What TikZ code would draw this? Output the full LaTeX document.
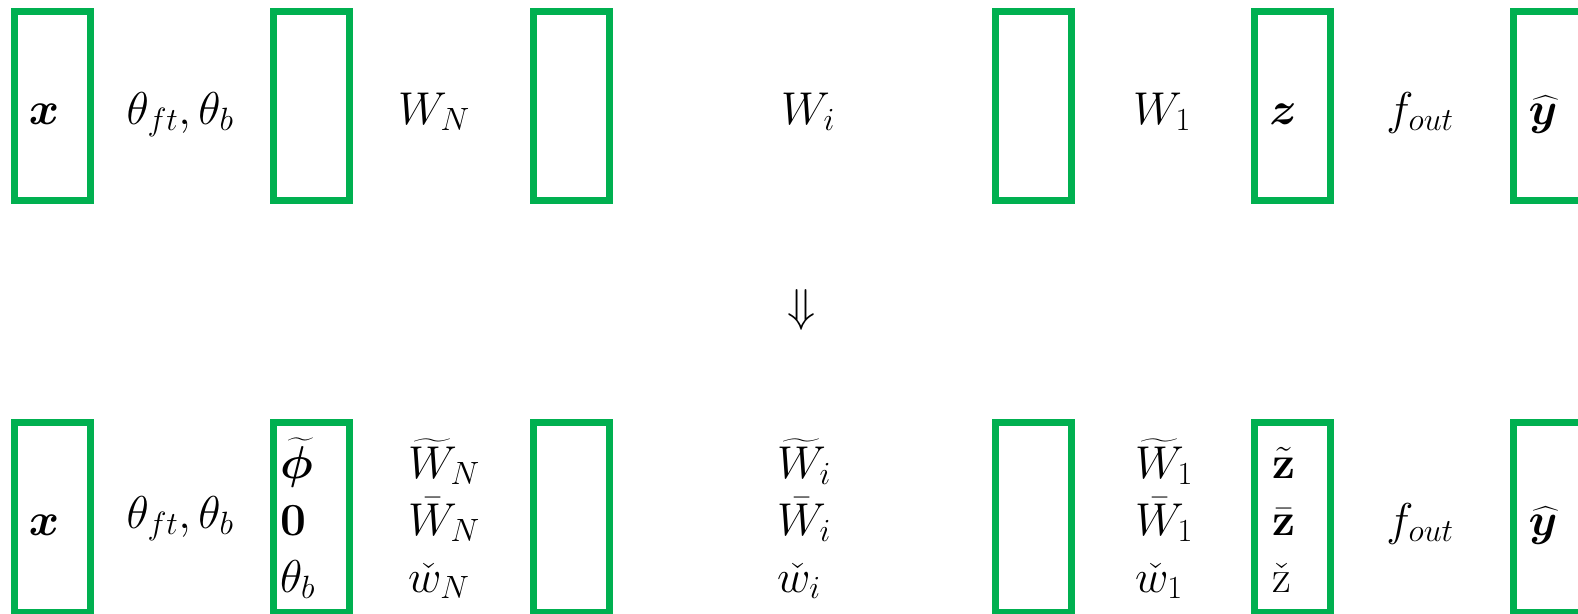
\RequirePackage{fix-cm}
\documentclass[tikz,border=0pt]{standalone}
\usepackage{amsmath,bm}
\definecolor{boxgreen}{HTML}{00B050}
\tikzset{
  lay/.style={draw=boxgreen, line width=7pt, minimum width=76pt, minimum height=189.5pt, inner sep=0pt, outer sep=0pt},
  lbl/.style={inner sep=0pt, font=\fontsize{46}{54}\selectfont, anchor=base},
  col/.style={lbl, anchor=base west},
}
\begin{document}
\begin{tikzpicture}[x=1pt,y=-1pt]
\useasboundingbox (0,0) rectangle (1578,613);
\clip (0,0) rectangle (1578,613);
% top boxes
\node[lay] (t1) at (52.5,105.75) {};
\node[lay] (t2) at (311.5,105.75) {};
\node[lay] (t3) at (571.5,105.75) {};
\node[lay] (t4) at (1033.5,105.75) {};
\node[lay] (t5) at (1292.5,105.75) {};
\node[lay] (t6) at (1551.5,105.75) {};
% bottom boxes
\node[lay] (b1) at (52.5,517.25) {};
\node[lay] (b2) at (311.5,517.25) {};
\node[lay] (b3) at (571.5,517.25) {};
\node[lay] (b4) at (1033.5,517.25) {};
\node[lay] (b5) at (1292.5,517.25) {};
\node[lay] (b6) at (1551.5,517.25) {};
% top labels
\node[lbl] (tx) at (44,124) {$\bm{x}$};
\node[lbl] (tth) at (180,124) {$\theta_{ft},\theta_b$};
\node[lbl] (twn) at (434,124) {$W_N$};
\node[lbl] (twi) at (808,124) {$W_i$};
\node[lbl] (tw1) at (1162,124) {$W_1$};
\node[lbl] (tz) at (1283,124) {$\bm{z}$};
\node[lbl] (tf) at (1420,124) {$f_{out}$};
\node[lbl] (ty) at (1543,124) {$\widehat{\bm{y}}$};
% arrow
\node[lbl, anchor=center] (arr) at (802,310) {$\Downarrow$};
% bottom labels
\node[lbl] (bx) at (44,535) {$\bm{x}$};
\node[lbl] (bth) at (180,528) {$\theta_{ft},\theta_b$};
\node[col] (p1) at (280,478) {$\widetilde{\bm{\phi}}$};
\node[col] (p2) at (280,535) {$\mathbf{0}$};
\node[col] (p3) at (280,592) {$\theta_b$};
\node[col] (n1) at (408,478) {$\widetilde{W}_N$};
\node[col] (n2) at (408,535) {$\bar{W}_N$};
\node[col] (n3) at (408,592) {$\check{w}_N$};
\node[col] (i1) at (777,478) {$\widetilde{W}_i$};
\node[col] (i2) at (777,535) {$\bar{W}_i$};
\node[col] (i3) at (777,592) {$\check{w}_i$};
\node[col] (o1) at (1135,478) {$\widetilde{W}_1$};
\node[col] (o2) at (1135,535) {$\bar{W}_1$};
\node[col] (o3) at (1135,592) {$\check{w}_1$};
\node[col] (z1) at (1272,478) {$\tilde{\mathbf{z}}$};
\node[col] (z2) at (1272,535) {$\bar{\mathbf{z}}$};
\node[col] (z3) at (1272,592) {$\check{\mathrm{z}}$};
\node[lbl] (bf) at (1420,535) {$f_{out}$};
\node[lbl] (by) at (1543,535) {$\widehat{\bm{y}}$};
\end{tikzpicture}
\end{document}
